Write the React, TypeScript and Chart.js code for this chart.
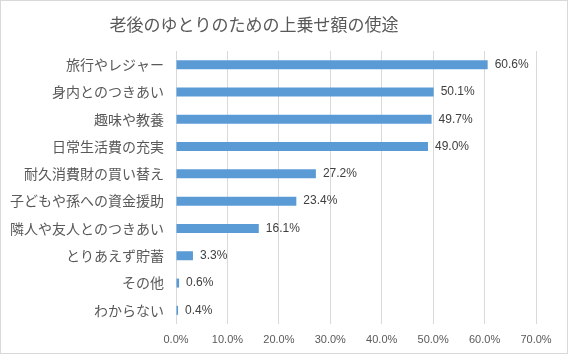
import React, { useEffect, useRef } from "react";
import { Chart, registerables } from "chart.js";

Chart.register(...registerables);

const TITLE = "老後のゆとりのための上乗せ額の使途";
const categories = [
  "旅行やレジャー",
  "身内とのつきあい",
  "趣味や教養",
  "日常生活費の充実",
  "耐久消費財の買い替え",
  "子どもや孫への資金援助",
  "隣人や友人とのつきあい",
  "とりあえず貯蓄",
  "その他",
  "わからない",
];
const values = [60.6, 50.1, 49.7, 49.0, 27.2, 23.4, 16.1, 3.3, 0.6, 0.4];
const xMin = 0;
const xMax = 70;
const xStep = 10;

const fmt = (v: number) => v.toFixed(1) + "%";

export default function App() {
  const ref = useRef<HTMLCanvasElement | null>(null);

  useEffect(() => {
    document.body.style.margin = "0";
    const canvas = ref.current;
    if (!canvas) return;

    const decor = {
      id: "decor",
      beforeDraw(chart: any) {
        const ctx = chart.ctx;
        ctx.save();
        ctx.fillStyle = "#ffffff";
        ctx.fillRect(0, 0, chart.width, chart.height);
        ctx.restore();
      },
      afterDraw(chart: any) {
        const ctx = chart.ctx;
        ctx.save();
        ctx.strokeStyle = "#d9d9d9";
        ctx.lineWidth = 1;
        ctx.strokeRect(0.5, 0.5, chart.width - 1, chart.height - 2);
        ctx.fillStyle = "#595959";
        ctx.font = '17px "Noto Sans CJK JP"';
        ctx.textAlign = "center";
        ctx.textBaseline = "middle";
        ctx.fillText(TITLE, 254, 25);
        ctx.restore();
      },
    };

    const dataLabels = {
      id: "dataLabels",
      afterDatasetsDraw(chart: any) {
        const ctx = chart.ctx;
        const meta = chart.getDatasetMeta(0);
        ctx.save();
        ctx.fillStyle = "#404040";
        ctx.font = '12px "Liberation Sans"';
        ctx.textAlign = "left";
        ctx.textBaseline = "middle";
        meta.data.forEach((bar: any, i: number) => {
          ctx.fillText(fmt(values[i]), bar.x + 7, bar.y);
        });
        ctx.restore();
      },
    };

    const chart = new Chart(canvas, {
      type: "bar",
      data: {
        labels: categories,
        datasets: [
          {
            data: values,
            backgroundColor: "#5b9bd5",
            borderWidth: 0,
            barPercentage: 0.33,
            categoryPercentage: 1,
          },
        ],
      },
      options: {
        indexAxis: "y",
        responsive: false,
        animation: false,
        devicePixelRatio: 1,
        layout: { padding: { top: 51, right: 32, left: 0, bottom: 0 } },
        plugins: {
          legend: { display: false },
          title: { display: false },
          tooltip: { enabled: false },
        },
        scales: {
          x: {
            min: xMin,
            max: xMax,
            ticks: {
              stepSize: xStep,
              callback: (v: any) => fmt(Number(v)),
              color: "#595959",
              font: { family: "Liberation Sans", size: 11 },
              padding: 9,
            },
            grid: { color: "#d9d9d9", drawTicks: false, lineWidth: 1 },
            border: { display: false },
            afterFit: (scale: any) => {
              scale.height = 31;
            },
          },
          y: {
            ticks: {
              color: "#595959",
              font: { family: "Noto Sans CJK JP", size: 14 },
              padding: 12,
            },
            grid: { display: false, drawTicks: false },
            border: { display: false },
            afterFit: (scale: any) => {
              scale.width = 176;
            },
          },
        },
      },
      plugins: [decor, dataLabels],
    } as any);

    return () => chart.destroy();
  }, []);

  return (
    <div style={{ width: 568, height: 355 }}>
      <canvas ref={ref} width={568} height={355} style={{ display: "block" }} />
    </div>
  );
}
